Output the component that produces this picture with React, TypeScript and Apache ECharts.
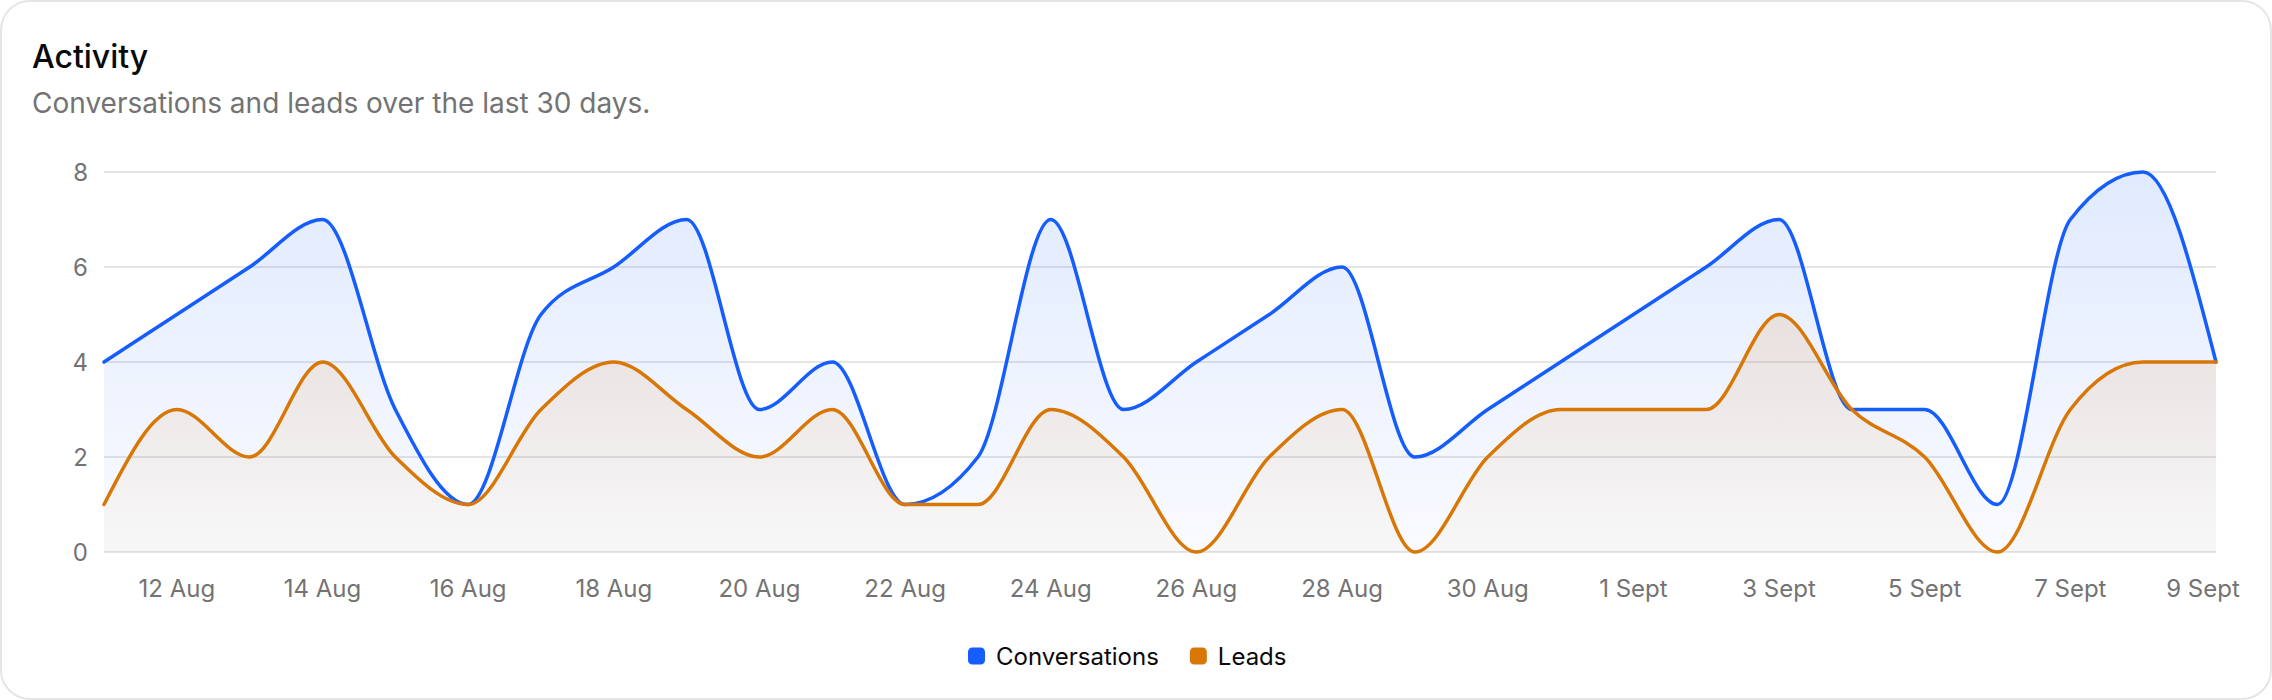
import React, { useEffect, useRef } from "react";
import * as echarts from "echarts";

const dates = [
  "11 Aug", "12 Aug", "13 Aug", "14 Aug", "15 Aug", "16 Aug", "17 Aug", "18 Aug", "19 Aug", "20 Aug",
  "21 Aug", "22 Aug", "23 Aug", "24 Aug", "25 Aug", "26 Aug", "27 Aug", "28 Aug", "29 Aug", "30 Aug",
  "31 Aug", "1 Sept", "2 Sept", "3 Sept", "4 Sept", "5 Sept", "6 Sept", "7 Sept", "8 Sept", "9 Sept",
];
const conversations = [4, 5, 6, 7, 3, 1, 5, 6, 7, 3, 4, 1, 2, 7, 3, 4, 5, 6, 2, 3, 4, 5, 6, 7, 3, 3, 1, 7, 8, 4];
const leads = [1, 3, 2, 4, 2, 1, 3, 4, 3, 2, 3, 1, 1, 3, 2, 0, 2, 3, 0, 2, 3, 3, 3, 5, 3, 2, 0, 3, 4, 4];
const yTicks = [0, 2, 4, 6, 8];

const TITLE = "Activity";
const SUBTITLE = "Conversations and leads over the last 30 days.";
const FONT = "Inter, 'Noto Sans', sans-serif";
const BLUE = "#155dfc";
const ORANGE = "#d97706";
const MUTED = "#737373";

function sign(x: number) {
  return x < 0 ? -1 : 1;
}

// d3 curveMonotoneX equivalent
function monotonePath(pts: number[][]): string {
  const n = pts.length;
  if (n < 2) return "";
  const t: number[] = new Array(n).fill(0);
  for (let i = 1; i < n - 1; i++) {
    const h0 = pts[i][0] - pts[i - 1][0];
    const h1 = pts[i + 1][0] - pts[i][0];
    const s0 = (pts[i][1] - pts[i - 1][1]) / (h0 || 1);
    const s1 = (pts[i + 1][1] - pts[i][1]) / (h1 || 1);
    const p = (s0 * h1 + s1 * h0) / (h0 + h1);
    t[i] = (sign(s0) + sign(s1)) * Math.min(Math.abs(s0), Math.abs(s1), 0.5 * Math.abs(p)) || 0;
  }
  if (n > 2) {
    const hA = pts[1][0] - pts[0][0];
    t[0] = (3 * (pts[1][1] - pts[0][1]) / hA - t[1]) / 2;
    const hB = pts[n - 1][0] - pts[n - 2][0];
    t[n - 1] = (3 * (pts[n - 1][1] - pts[n - 2][1]) / hB - t[n - 2]) / 2;
  } else {
    const s = (pts[1][1] - pts[0][1]) / (pts[1][0] - pts[0][0]);
    t[0] = s;
    t[1] = s;
  }
  let d = `M${pts[0][0]},${pts[0][1]}`;
  for (let i = 0; i < n - 1; i++) {
    const [x0, y0] = pts[i];
    const [x1, y1] = pts[i + 1];
    const dx = (x1 - x0) / 3;
    d += ` C${x0 + dx},${y0 + dx * t[i]} ${x1 - dx},${y1 - dx * t[i + 1]} ${x1},${y1}`;
  }
  return d;
}

function makeSeries(name: string, values: number[], color: string, rgb: string) {
  return {
    name,
    type: "custom",
    coordinateSystem: "cartesian2d",
    itemStyle: { color },
    encode: { x: 0, y: 1 },
    data: values.map((v, i) => [i, v]),
    renderItem: (params: any, api: any) => {
      if (params.dataIndex !== 0) return null;
      const pts = values.map((v, i) => api.coord([i, v]));
      const base = api.coord([0, 0])[1];
      const lineD = monotonePath(pts);
      const last = pts[pts.length - 1];
      const areaD = `${lineD} L${last[0]},${base} L${pts[0][0]},${base} Z`;
      return {
        type: "group",
        children: [
          {
            type: "path",
            shape: { pathData: areaD },
            style: {
              fill: new echarts.graphic.LinearGradient(0, 0, 0, 1, [
                { offset: 0, color: `rgba(${rgb},0.13)` },
                { offset: 1, color: `rgba(${rgb},0.025)` },
              ]),
              stroke: "none",
            },
          },
          {
            type: "path",
            shape: { pathData: lineD },
            style: { fill: "none", stroke: color, lineWidth: 3.5, lineJoin: "round", lineCap: "round" },
          },
        ],
      };
    },
  };
}

export default function App() {
  const ref = useRef<HTMLDivElement>(null);

  useEffect(() => {
    document.body.style.margin = "0";
    document.body.style.background = "#ffffff";
    if (!ref.current) return;
    const chart = echarts.init(ref.current, null, { renderer: "svg" });
    chart.setOption({
      animation: false,
      textStyle: { fontFamily: FONT },
      graphic: [
        {
          type: "text",
          left: 32,
          top: 40,
          style: { text: TITLE, fontSize: 32, fontWeight: 500, fill: "#0a0a0a", fontFamily: FONT },
        },
        {
          type: "text",
          left: 32,
          top: 89,
          style: { text: SUBTITLE, fontSize: 28, fontWeight: 400, fill: MUTED, fontFamily: FONT },
        },
      ],
      legend: {
        left: 963,
        top: 639,
        itemWidth: 17,
        itemHeight: 17,
        itemGap: 31,
        icon: "roundRect",
        data: ["Conversations", "Leads"],
        textStyle: { fontSize: 24, color: "#0a0a0a", fontFamily: FONT, padding: [0, 0, 0, 6] },
      },
      grid: { left: 104, right: 56, top: 172, bottom: 148, containLabel: false },
      xAxis: {
        type: "category",
        data: dates,
        boundaryGap: false,
        axisLine: { show: false },
        axisTick: { show: false },
        splitLine: { show: false },
        axisLabel: {
          interval: (i: number) => i % 2 === 1,
          fontSize: 24,
          color: MUTED,
          fontFamily: FONT,
          margin: 24,
          formatter: (v: string, i: number) => (i === dates.length - 1 ? `{last|${v}}` : v),
          rich: {
            last: { fontSize: 24, color: MUTED, fontFamily: FONT, padding: [0, 26, 0, 0] },
          },
        },
      },
      yAxis: {
        type: "value",
        min: yTicks[0],
        max: yTicks[yTicks.length - 1],
        interval: 2,
        axisLine: { show: false },
        axisTick: { show: false },
        splitLine: { lineStyle: { color: "#e5e5e5", width: 2 } },
        axisLabel: { fontSize: 24, color: MUTED, fontFamily: FONT, margin: 16 },
      },
      series: [
        makeSeries("Conversations", conversations, BLUE, "21,93,252"),
        makeSeries("Leads", leads, ORANGE, "217,119,6"),
      ],
    });
    return () => chart.dispose();
  }, []);

  return (
    <div style={{ position: "relative", width: 2272, height: 700, background: "#fff" }}>
      <div
        style={{
          position: "absolute",
          inset: 0,
          border: "2px solid #e5e5e5",
          borderRadius: 30,
          boxSizing: "border-box",
        }}
      />
      <div ref={ref} style={{ position: "absolute", left: 0, top: 0, width: 2272, height: 700 }} />
    </div>
  );
}
